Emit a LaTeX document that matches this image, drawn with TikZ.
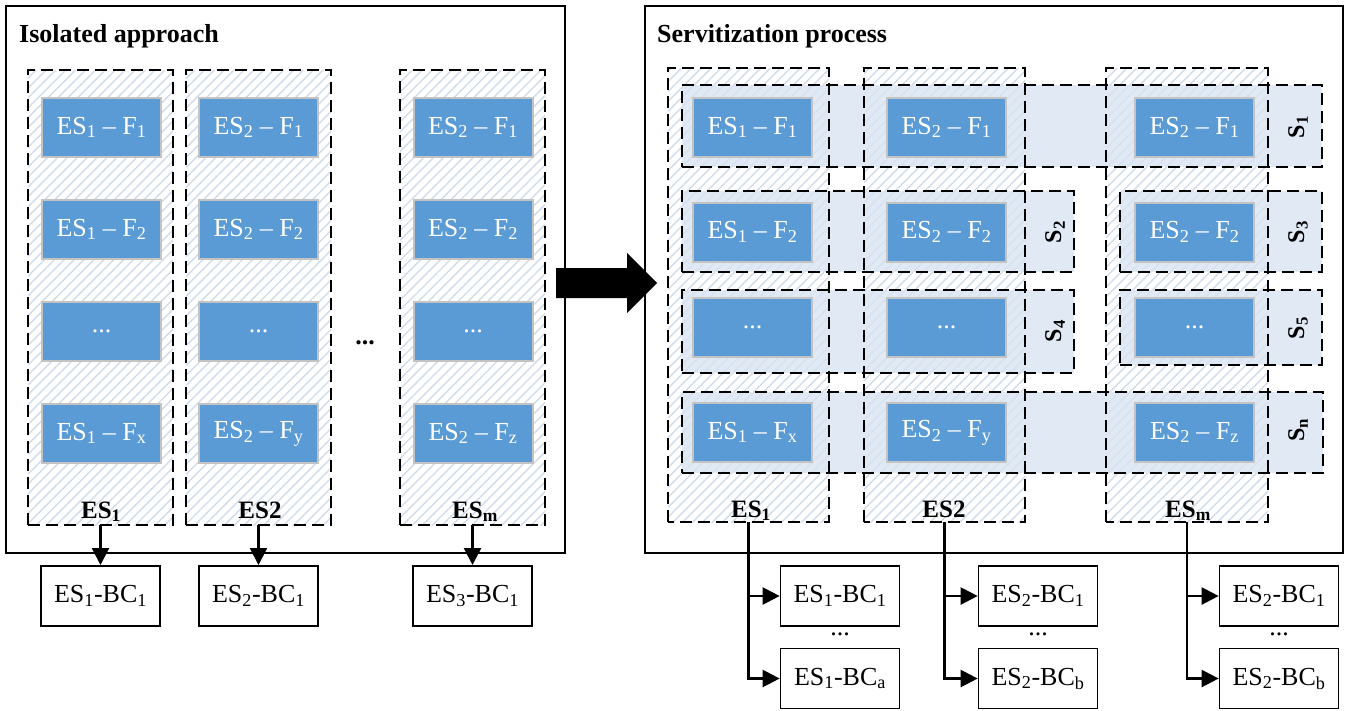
\documentclass[tikz,border=0pt]{standalone}
\usepackage{fontspec}
\setmainfont{Liberation Serif}
\usepackage{tikz}
\usetikzlibrary{patterns.meta,arrows.meta,positioning}
\definecolor{fblue}{HTML}{5B9BD5}
\definecolor{fedge}{HTML}{C3C3C3}
\definecolor{hatch}{HTML}{D0DCEB}
\definecolor{band}{HTML}{D8E4F1}
\tikzset{
  panel/.style={draw=black, line width=1.7pt},
  colhatch/.style={pattern={Lines[angle=45,distance=7pt,line width=1.4pt]}, pattern color=hatch, inner sep=0pt, outer sep=0pt},
  dashbox/.style={draw=black, line width=2.8pt, dash pattern=on 12pt off 6pt},
  band/.style={fill=band, fill opacity=0.8, inner sep=0pt, outer sep=0pt},
  func/.style={draw=fedge, line width=2pt, fill=fblue, text=white, minimum width=119pt, minimum height=59pt, inner sep=0pt, font=\fontsize{26}{30}\selectfont},
  bc/.style={draw=black, line width=1.7pt, fill=white, minimum width=119pt, minimum height=60pt, inner sep=0pt, font=\fontsize{26}{30}\selectfont},
  title/.style={anchor=base west, inner sep=0pt, font=\bfseries\fontsize{26}{30}\selectfont},
  eslab/.style={anchor=base, inner sep=0pt, font=\bfseries\fontsize{25}{30}\selectfont},
  slab/.style={rotate=90, inner sep=0pt, font=\bfseries\fontsize{24}{28}\selectfont},
  dots/.style={inner sep=0pt, font=\fontsize{26}{30}\selectfont},
  arr/.style={draw=black, line width=2.3pt, -{Triangle[length=17pt,width=17pt]}},
}

\begin{document}
\begin{tikzpicture}[x=1pt,y=-1pt]
\useasboundingbox (0,0) rectangle (1349,710);

% left panel: isolated approach
\draw[panel] (6,6) rectangle (565,553);
\node[title] (ltitle) at (19,42) {Isolated approach};

\node[colhatch, dashbox, minimum width=145pt, minimum height=455pt] (l1) at (100.5,297.5) {};
\node[colhatch, dashbox, minimum width=145pt, minimum height=455pt] (l2) at (258.5,297.5) {};
\node[colhatch, dashbox, minimum width=145pt, minimum height=455pt] (l3) at (472.5,297.5) {};

\node[func] (lf11) at (101.5,127.5) {ES\textsubscript{1} -- F\textsubscript{1}};
\node[func] (lf12) at (101.5,229.5) {ES\textsubscript{1} -- F\textsubscript{2}};
\node[func] (lf13) at (101.5,331.5) {...};
\node[func] (lf14) at (101.5,433.5) {ES\textsubscript{1} -- F\textsubscript{x}};
\node[func] (lf21) at (258.5,127.5) {ES\textsubscript{2} -- F\textsubscript{1}};
\node[func] (lf22) at (258.5,229.5) {ES\textsubscript{2} -- F\textsubscript{2}};
\node[func] (lf23) at (258.5,331.5) {...};
\node[func] (lf24) at (258.5,433.5) {ES\textsubscript{2} -- F\textsubscript{y}};
\node[func] (lf31) at (473,127.5) {ES\textsubscript{2} -- F\textsubscript{1}};
\node[func] (lf32) at (473,229.5) {ES\textsubscript{2} -- F\textsubscript{2}};
\node[func] (lf33) at (473,331.5) {...};
\node[func] (lf34) at (473,433.5) {ES\textsubscript{2} -- F\textsubscript{z}};
\node[dots, font=\bfseries\fontsize{26}{30}\selectfont] (ldots) at (365,343) {...};

\node[eslab] (les1) at (101,518) {ES\textsubscript{1}};
\node[eslab] (les2) at (260,518) {ES2};
\node[eslab] (les3) at (475,518) {ES\textsubscript{m}};

\node[bc, below=40pt of l1] (lbc1) {ES\textsubscript{1}-BC\textsubscript{1}};
\node[bc, below=40pt of l2] (lbc2) {ES\textsubscript{2}-BC\textsubscript{1}};
\node[bc, below=40pt of l3] (lbc3) {ES\textsubscript{3}-BC\textsubscript{1}};
\draw[arr] (l1.south) -- (lbc1.north);
\draw[arr] (l2.south) -- (lbc2.north);
\draw[arr] (l3.south) -- (lbc3.north);

% right panel: servitization process
\draw[panel] (645,6) rectangle (1343,553);
\node[title] (rtitle) at (657,42) {Servitization process};

\node[colhatch, minimum width=161pt, minimum height=454pt] (r1) at (748.5,295) {};
\node[colhatch, minimum width=161pt, minimum height=454pt] (r2) at (944.5,295) {};
\node[colhatch, minimum width=162pt, minimum height=454pt] (r3) at (1187,295) {};

\node[band, dashbox, minimum width=640pt, minimum height=82pt] (s1) at (1002,126) {};
\node[band, dashbox, minimum width=392pt, minimum height=81pt] (s2) at (878,231.5) {};
\node[band, dashbox, minimum width=202pt, minimum height=81pt] (s3) at (1221,231.5) {};
\node[band, dashbox, minimum width=392pt, minimum height=83pt] (s4) at (878,331.5) {};
\node[band, dashbox, minimum width=202pt, minimum height=75pt] (s5) at (1221,327.5) {};
\node[band, dashbox, minimum width=641pt, minimum height=81pt] (sn) at (1002.5,432.5) {};

\draw[dashbox] (r1.south west) rectangle (r1.north east);
\draw[dashbox] (r2.south west) rectangle (r2.north east);
\draw[dashbox] (r3.south west) rectangle (r3.north east);

\node[func] (rf11) at (752.5,127.5) {ES\textsubscript{1} -- F\textsubscript{1}};
\node[func] (rf21) at (946.5,127.5) {ES\textsubscript{2} -- F\textsubscript{1}};
\node[func] (rf31) at (1194.5,127.5) {ES\textsubscript{2} -- F\textsubscript{1}};
\node[func] (rf12) at (752.5,232) {ES\textsubscript{1} -- F\textsubscript{2}};
\node[func] (rf22) at (946.5,232) {ES\textsubscript{2} -- F\textsubscript{2}};
\node[func] (rf32) at (1194.5,232) {ES\textsubscript{2} -- F\textsubscript{2}};
\node[func] (rf13) at (752.5,327.5) {...};
\node[func] (rf23) at (946.5,327.5) {...};
\node[func] (rf33) at (1194.5,327.5) {...};
\node[func] (rf14) at (752.5,432.5) {ES\textsubscript{1} -- F\textsubscript{x}};
\node[func] (rf24) at (946.5,432.5) {ES\textsubscript{2} -- F\textsubscript{y}};
\node[func] (rf34) at (1194.5,432.5) {ES\textsubscript{2} -- F\textsubscript{z}};

\node[slab] (s1lab) at (1298,127) {S\textsubscript{1}};
\node[slab] (s2lab) at (1055,232) {S\textsubscript{2}};
\node[slab] (s3lab) at (1298,232) {S\textsubscript{3}};
\node[slab] (s4lab) at (1055,331) {S\textsubscript{4}};
\node[slab] (s5lab) at (1298,328) {S\textsubscript{5}};
\node[slab] (snlab) at (1298,430) {S\textsubscript{n}};

\node[eslab] (res1) at (751,517) {ES\textsubscript{1}};
\node[eslab] (res2) at (944,517) {ES2};
\node[eslab] (res3) at (1188,517) {ES\textsubscript{m}};

\node[bc] (bc11) at (840,596) {ES\textsubscript{1}-BC\textsubscript{1}};
\node[bc] (bc1a) at (840,678.5) {ES\textsubscript{1}-BC\textsubscript{a}};
\node[bc] (bc21) at (1038,596) {ES\textsubscript{2}-BC\textsubscript{1}};
\node[bc] (bc2b) at (1038,678.5) {ES\textsubscript{2}-BC\textsubscript{b}};
\node[bc] (bc31) at (1279,596) {ES\textsubscript{2}-BC\textsubscript{1}};
\node[bc] (bc3b) at (1279,678.5) {ES\textsubscript{2}-BC\textsubscript{b}};
\node[dots] (d1) at (840,634) {...};
\node[dots] (d2) at (1038,634) {...};
\node[dots] (d3) at (1279,634) {...};

\draw[arr] (r1.south) |- (bc11.west);
\draw[arr] (r1.south) |- (bc1a.west);
\draw[arr] (r2.south) |- (bc21.west);
\draw[arr] (r2.south) |- (bc2b.west);
\draw[arr] (r3.south) |- (bc31.west);
\draw[arr] (r3.south) |- (bc3b.west);

% big arrow between the panels
\fill[black] (556,268) -- (627,268) -- (627,253) -- (657,283) -- (627,313) -- (627,298) -- (556,298) -- cycle;
\end{tikzpicture}
\end{document}
